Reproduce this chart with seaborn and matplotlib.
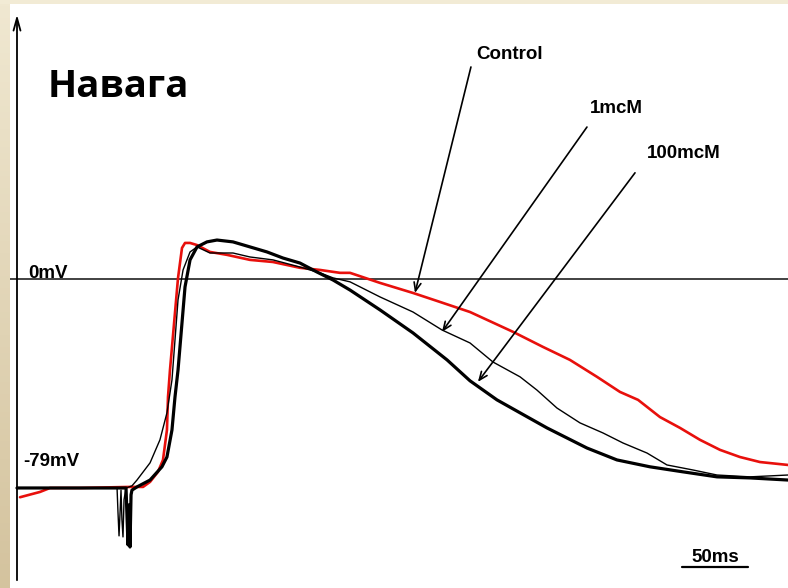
import numpy as np
import pandas as pd
import matplotlib
matplotlib.use("Agg")
import matplotlib.pyplot as plt
import seaborn as sns

# traces: time (ms) and membrane potential (mV)
control_t = [2.3, 17.4, 25.0, 47.7, 85.6, 95.5, 100.8, 106.8, 110.6, 113.6, 114.4, 115.9,
             122.0, 125.0, 127.3, 131.1, 136.4, 146.2, 159.1, 176.5, 193.9, 214.4, 229.5,
             244.7, 252.3, 275.0, 300.0, 320.5, 343.2, 375.8, 398.5, 418.9, 439.4, 456.8,
             470.5, 487.1, 502.3, 517.4, 532.6, 547.7, 562.9, 584.1]
control_v = [-82.5, -80.5, -79.0, -79.0, -78.6, -78.6, -76.7, -72.9, -68.4, -57.1, -44.6, -34.4,
             0.4, 11.7, 13.6, 13.6, 12.8, 10.2, 9.1, 7.2, 6.4, 4.2, 3.4,
             2.3, 2.3, -1.5, -5.3, -8.7, -12.5, -20.0, -25.7, -30.6, -37.0, -42.7,
             -45.7, -52.2, -56.3, -60.8, -64.6, -67.3, -69.2, -70.3]

low_t = [0.0, 32.6, 75.8, 76.5, 77.3, 78.0, 78.8, 79.5, 80.3, 81.1, 82.6, 87.1, 90.9,
         100.8, 108.3, 113.6, 117.4, 122.0, 125.8, 131.1, 136.4, 146.2, 163.6, 176.5,
         193.9, 214.4, 229.5, 239.4, 252.3, 275.0, 300.0, 322.0, 343.2, 360.6, 381.1,
         393.9, 409.1, 426.5, 443.9, 459.1, 477.3, 492.4, 512.1, 530.3, 555.3, 584.1]
low_v = [-79.0, -79.0, -79.0, -88.1, -97.1, -89.2, -79.8, -91.1, -97.5, -83.4, -79.0, -78.2, -76.0,
         -69.5, -60.8, -50.6, -38.2, -7.9, 3.4, 10.2, 12.1, 9.8, 9.8, 8.3,
         7.2, 4.5, 2.3, 0.4, -1.1, -6.8, -12.5, -19.3, -24.2, -31.4, -37.0,
         -42.0, -48.8, -54.4, -58.2, -62.0, -65.8, -70.3, -72.2, -74.1, -74.8, -74.1]

high_t = [0.0, 32.6, 82.6, 83.3, 84.1, 84.8, 85.6, 86.4, 87.1, 90.9, 100.8, 109.8, 113.6,
          117.4, 119.7, 122.0, 127.3, 131.1, 136.4, 143.9, 151.5, 163.6, 176.5, 189.4,
          201.5, 214.4, 227.3, 239.4, 252.3, 275.0, 300.0, 325.8, 343.2, 363.6, 381.1,
          401.5, 431.8, 454.5, 479.5, 504.5, 530.3, 555.3, 584.1]
high_v = [-79.0, -79.0, -79.0, -89.2, -100.5, -85.4, -101.3, -81.6, -79.8, -78.6, -76.0, -71.0, -67.3,
          -57.1, -44.6, -34.4, -3.0, 7.2, 12.1, 14.0, 14.7, 14.0, 12.1, 10.2,
          7.9, 6.0, 2.6, -0.4, -4.2, -11.7, -20.4, -30.6, -38.5, -45.7, -50.6,
          -56.3, -63.9, -68.4, -71.0, -72.9, -74.8, -75.2, -76.0]

series_names = ["Control", "1mcM", "100mcM"]
rest_mv = -79
scale_ms = 50

df = pd.concat([
    pd.DataFrame({"t": control_t, "v": control_v, "trace": "Control"}),
    pd.DataFrame({"t": low_t, "v": low_v, "trace": "1mcM"}),
    pd.DataFrame({"t": high_t, "v": high_v, "trace": "100mcM"}),
])

sns.set_style("white")
plt.rcParams["text.color"] = "black"
fig = plt.figure(figsize=(7.88, 5.88), dpi=100)

# beige slide border
bg = fig.add_axes([0, 0, 1, 1])
bg.set_xlim(0, 788)
bg.set_ylim(588, 0)
bg.axis("off")
grad = np.linspace(0, 1, 100).reshape(-1, 1)
cmap = matplotlib.colors.LinearSegmentedColormap.from_list("b", ["#f0e8d1", "#d4c39e"])
bg.imshow(grad, extent=(0, 10, 588, 0), cmap=cmap, aspect="auto")
bg.add_patch(plt.Rectangle((0, 0), 788, 4, color="#f2ebd5", lw=0))

ax = fig.add_axes([10 / 788, 0, 778 / 788, 584 / 588])
ax.set_xlim(-5.3, 584.1)
ax.set_ylim(-116.8, 103.9)
ax.axis("off")

styles = {"Control": ("#e8100c", 1.9), "1mcM": ("black", 1.0), "100mcM": ("black", 2.3)}
for name in series_names:
    sub = df[df["trace"] == name]
    c, lw = styles[name]
    sns.lineplot(data=sub, x="t", y="v", ax=ax, color=c, linewidth=lw,
                 sort=False, estimator=None, legend=False)

ax.axhline(0, color="#333333", lw=1.3, zorder=1)
ax.annotate("", xy=(0, 100.9), xytext=(0, -114.9),
            arrowprops=dict(arrowstyle="->,head_length=0.9,head_width=0.25",
                            color="black", lw=1.3))

lab = dict(fontfamily="Liberation Sans", fontweight="bold", fontsize=13.5, color="black")
ax.text(8.3, 0.5, "0mV", ha="left", va="baseline", **lab)
ax.text(4.5, -70.7, f"{rest_mv}mV", ha="left", va="baseline", **lab)
ax.text(23.5, 68.8, "Навага", ha="left", va="baseline", fontfamily="Open Sans",
        fontweight="bold", fontsize=27.5, color="black")

arrow = dict(arrowstyle="->,head_length=0.6,head_width=0.25", color="black", lw=1.2,
             shrinkA=0, shrinkB=0)
ax.text(373.5, 83.1, "Control", ha="center", va="baseline", **lab)
ax.annotate("", xy=(301.5, -5.3), xytext=(343.9, 80.1), arrowprops=arrow)
ax.text(453.8, 62.7, "1mcM", ha="center", va="baseline", **lab)
ax.annotate("", xy=(322.0, -20.0), xytext=(431.8, 57.4), arrowprops=arrow)
ax.text(505.3, 45.7, "100mcM", ha="center", va="baseline", **lab)
ax.annotate("", xy=(349.2, -38.9), xytext=(468.2, 40.1), arrowprops=arrow)

# 50 ms scale bar
ax.plot([503.8, 503.8 + scale_ms], [-108.8, -108.8], color="black", lw=1.6)
ax.text(503.8 + scale_ms / 2, -107.0, f"{scale_ms}ms", ha="center", va="baseline", **lab)

fig.savefig("out.png", dpi=100)
